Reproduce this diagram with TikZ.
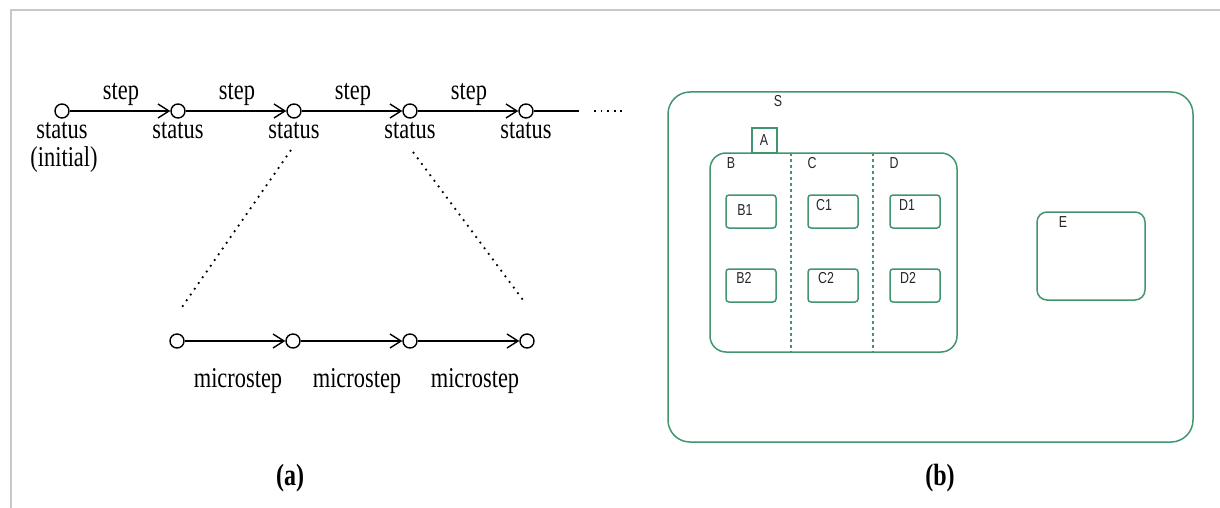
\documentclass[tikz,border=0pt]{standalone}
\usepackage{fontspec}
\setmainfont{Liberation Serif}
\newfontfamily\arialf{Liberation Sans}
\usetikzlibrary{arrows.meta}
\definecolor{sgreen}{RGB}{64,150,110}
\definecolor{framegray}{RGB}{200,200,200}
\newcommand\tall[1]{\scalebox{1}[1.28]{#1}}
\begin{document}
\begin{tikzpicture}[x=0.5pt,y=-0.5pt,
  st/.style={circle,draw,line width=0.7pt,minimum size=7pt,inner sep=0pt},
  arr/.style={line width=0.7pt,-{Straight Barb[length=5.5pt,width=7pt,line width=0.7pt]}},
  serif/.style={font=\fontsize{11.2}{13}\selectfont,inner sep=0pt,anchor=base},
  captext/.style={font=\fontsize{12}{14}\selectfont\bfseries,inner sep=0pt},
  sans/.style={font=\arialf\fontsize{6.2}{7}\selectfont,inner sep=0pt,text=black!85},
  dotdiag/.style={line width=0.9pt,dash pattern=on 0.9pt off 2.6pt},
  gline/.style={draw=sgreen,line width=0.75pt},
  gdash/.style={draw=sgreen,line width=0.75pt,dash pattern=on 1.5pt off 1.5pt}
]
\useasboundingbox (0,0) rectangle (1220,508);
% frame
\draw[framegray,line width=1pt] (11,508) -- (11,10) -- (1220,10);

% ---------- (a) ----------
\foreach \i/\x in {1/62,2/178,3/294,4/410,5/526}{
  \node[st] (c\i) at (\x,111) {};
  \node[serif] (s\i) at (\x,139) {\tall{status}};
}
\node[serif] (init) at (64,166) {\tall{(initial)}};
\foreach \i/\j/\x in {1/2/121,2/3/237,3/4/353,4/5/469}{
  \draw[arr] (c\i) -- (c\j);
  \node[serif] (step\i) at (\x,99) {\tall{step}};
}
\coordinate (lend) at (579,111);
\draw[line width=0.7pt] (c5) -- (lend);
\coordinate (d1) at (594,111);
\coordinate (d2) at (622,111);
\draw[line width=0.9pt,dash pattern=on 0.9pt off 2.4pt] (d1) -- (d2);

\foreach \i/\x in {1/177,2/293,3/410,4/527}{
  \node[st] (m\i) at (\x,341) {};
}
\foreach \i/\j in {1/2,2/3,3/4}{
  \draw[arr] (m\i) -- (m\j);
}
\foreach \i/\x in {1/238,2/357,3/475}{
  \node[serif] (ms\i) at (\x,387) {\tall{microstep}};
}
\coordinate (p1) at (291,150);
\coordinate (p2) at (180,310);
\coordinate (q1) at (413,152);
\coordinate (q2) at (523,300);
\draw[dotdiag] (p1) -- (p2);
\draw[dotdiag] (q1) -- (q2);

\node[captext] (la) at (290,478) {\tall{(a)}};
\node[captext] (lb) at (940,478) {\tall{(b)}};

% ---------- (b) ----------
\draw[gline,rounded corners=11pt] (668,92) rectangle (1193,442);
\node[sans] (S) at (778,101) {\tall{S}};
\draw[gline] (752,153) rectangle (777,128);
\node[sans] (A) at (764,140) {\tall{A}};
\draw[gline,rounded corners=8pt] (710,153) rectangle (957,352);
\draw[gdash] (791,153) -- (791,352);
\draw[gdash] (873,153) -- (873,352);
\node[sans] (B) at (731,163) {\tall{B}};
\node[sans] (C) at (812,163) {\tall{C}};
\node[sans] (D) at (894,163) {\tall{D}};
\foreach \n/\x/\tx/\ty in {B1/726/745/210,C1/808/824/205,D1/890/907/205}{
  \draw[gline,rounded corners=1.5pt] (\x,195) rectangle ++(50,33);
  \node[sans] (\n) at (\tx,\ty) {\tall{\n}};
}
\foreach \n/\x/\tx in {B2/726/744,C2/808/826,D2/890/908}{
  \draw[gline,rounded corners=1.5pt] (\x,269) rectangle ++(50,33);
  \node[sans] (\n) at (\tx,278) {\tall{\n}};
}
\draw[gline,rounded corners=5pt] (1037,212) rectangle (1145,300);
\node[sans] (E) at (1063,222) {\tall{E}};
\end{tikzpicture}
\end{document}
